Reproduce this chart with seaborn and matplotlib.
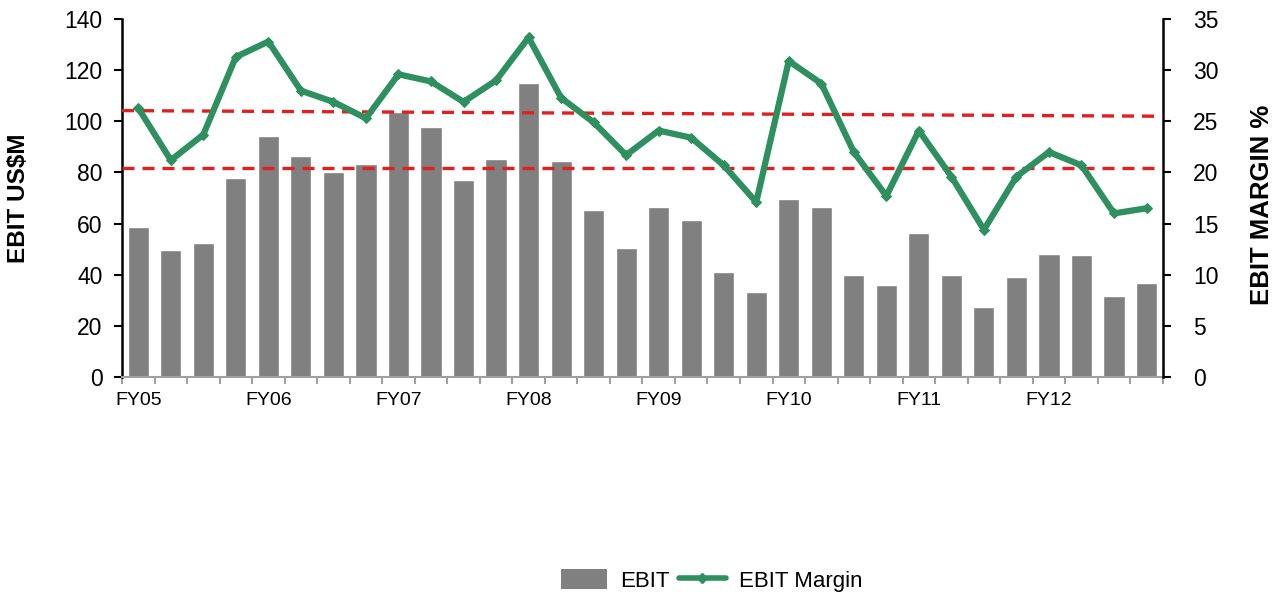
import numpy as np
import pandas as pd
import matplotlib
matplotlib.use("Agg")
import matplotlib.pyplot as plt
from matplotlib.lines import Line2D
from matplotlib.patches import Patch
import seaborn as sns

# Quarterly EBIT (US$M) and EBIT margin (%), FY05 onwards
periods = [f"Q{i}" for i in range(32)]
ebit = [58.5, 49.5, 52.3, 77.8, 94.3, 86.5, 80.3, 83.5,
        103.5, 97.9, 77.2, 85.2, 115.0, 84.5, 65.2, 50.5,
        66.6, 61.3, 41.1, 33.3, 69.6, 66.6, 40.0, 35.8,
        56.2, 40.0, 27.2, 39.3, 48.3, 47.8, 31.5, 36.8]
margin = [26.3, 21.2, 23.7, 31.3, 32.8, 28.0, 26.9, 25.3,
          29.6, 28.9, 26.9, 29.0, 33.2, 27.3, 24.9, 21.7,
          24.1, 23.4, 20.7, 17.1, 30.9, 28.7, 22.0, 17.7,
          24.1, 19.6, 14.4, 19.6, 22.0, 20.7, 16.0, 16.5]
fy_labels = ["FY05", "FY06", "FY07", "FY08", "FY09", "FY10", "FY11", "FY12"]

# Reference band (EBIT margin %), start and end of each dashed line
band_upper = [26.05, 25.5]
band_lower = [20.45, 20.45]

df = pd.DataFrame({"period": periods, "ebit": ebit, "margin": margin,
                   "pos": np.arange(len(periods))})

sns.set_style("white")
plt.rcParams["font.family"] = ["Liberation Sans", "DejaVu Sans"]
plt.rcParams["text.color"] = "black"
plt.rcParams["axes.labelcolor"] = "black"
plt.rcParams["xtick.labelcolor"] = "black"
plt.rcParams["ytick.labelcolor"] = "black"

fig = plt.figure(figsize=(12.75, 5.96), dpi=100)
ax = fig.add_axes([0.0957, 0.3674, 0.912 - 0.0957, 0.968 - 0.3674])

sns.barplot(data=df, x="period", y="ebit", color="#808080", saturation=1,
            width=0.65, ax=ax, zorder=2)
ax.set_xlim(-0.5, len(periods) - 0.5)
ax.set_ylim(0, 140)
ax.set_yticks(np.arange(0, 141, 20))
ax.tick_params(axis="y", labelsize=16.5, length=6, width=1.5, color="black",
               direction="out", left=True, pad=8)
ax.set_xticks(np.arange(0, len(periods), 4))
ax.set_xticklabels(fy_labels, fontsize=14)
ax.set_xticks(np.arange(-0.5, len(periods), 1), minor=True)
ax.tick_params(axis="x", which="major", length=0, pad=11)
ax.tick_params(axis="x", which="minor", length=5, width=1.5, color="#a0a0a0",
               bottom=True)
ax.set_xlabel("")
ax.set_ylabel("EBIT US$M", fontsize=17.5, fontweight="bold")
ax.yaxis.set_label_coords(-0.088, 0.5)

for side in ["top", "right"]:
    ax.spines[side].set_visible(False)
ax.spines["left"].set_color("black")
ax.spines["left"].set_linewidth(1.8)
ax.spines["bottom"].set_color("#a0a0a0")
ax.spines["bottom"].set_linewidth(1.5)

ax2 = ax.twinx()
ax2.set_ylim(0, 35)
ax2.set_yticks(np.arange(0, 36, 5))
ax2.tick_params(axis="y", labelsize=16.5, length=6, width=1.5, color="black",
                direction="out", right=True, pad=16)
for side in ["top", "left", "bottom"]:
    ax2.spines[side].set_visible(False)
ax2.spines["right"].set_color("black")
ax2.spines["right"].set_linewidth(1.8)

edge = [-0.5, len(periods) - 0.5]
ax2.plot(edge, band_upper, color="#e02020", lw=2.4, ls=(0, (3.6, 2.4)), zorder=3)
ax2.plot(edge, band_lower, color="#e02020", lw=2.4, ls=(0, (3.6, 2.4)), zorder=3)

green = "#2e8f5f"
sns.lineplot(data=df, x="pos", y="margin", color=green, lw=4.5, marker="D",
             markersize=5.5, markeredgecolor=green, ax=ax2, zorder=4)
ax2.set_xlim(-0.5, len(periods) - 0.5)
ax2.set_xlabel("")
ax2.set_ylabel("EBIT MARGIN %", fontsize=18.5, fontweight="bold")
ax2.yaxis.set_label_coords(1.0836, 0.48)

handles = [Patch(facecolor="#808080", edgecolor="none"),
           Line2D([0], [0], color=green, lw=4.0, marker="D", markersize=5)]
fig.legend(handles, ["EBIT", "EBIT Margin"], loc="center",
           bbox_to_anchor=(0.558, 0.026), ncol=2, frameon=False, fontsize=16,
           handlelength=2.1, handleheight=1.0, columnspacing=0.4,
           handletextpad=0.6)

fig.savefig("out.png", dpi=100)
